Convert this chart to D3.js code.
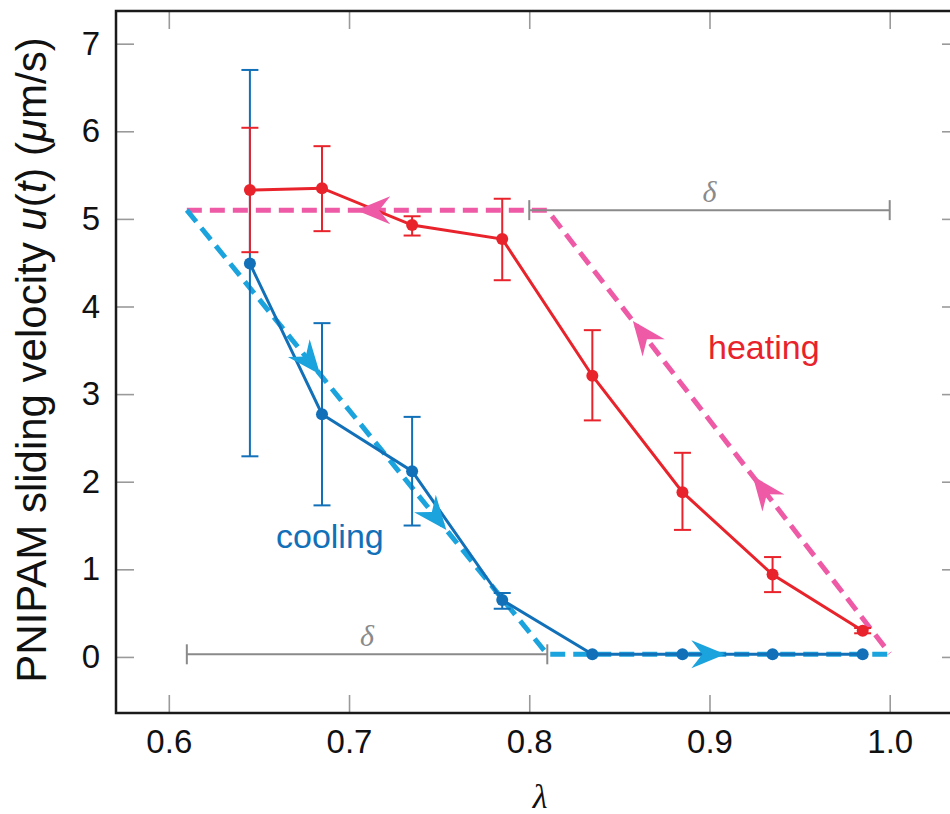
<!DOCTYPE html>
<html>
<head>
<meta charset="utf-8">
<script src="https://cdn.jsdelivr.net/npm/d3@7"></script>
<style>
  body { margin: 0; background: #fff; }
  svg { display: block; font-family: "Liberation Sans", Arial, sans-serif; }
</style>
</head>
<body>
<div id="chart"></div>
<script>
// lambda positions of the measurements
const lambdas = [0.645, 0.685, 0.735, 0.785, 0.835, 0.885, 0.935, 0.985];

// heating branch (red): mean, lower and upper ends of error bar
const heatMean = [5.33, 5.35, 4.93, 4.77, 3.21, 1.88, 0.94, 0.30];
const heatLow  = [4.62, 4.86, 4.81, 4.30, 2.70, 1.45, 0.74, 0.27];
const heatHigh = [6.04, 5.83, 5.03, 5.23, 3.73, 2.33, 1.14, 0.33];

// cooling branch (blue)
const coolMean = [4.49, 2.77, 2.12, 0.65, 0.03, 0.03, 0.03, 0.03];
const coolLow  = [2.29, 1.73, 1.50, 0.55, 0.03, 0.03, 0.03, 0.03];
const coolHigh = [6.70, 3.81, 2.74, 0.73, 0.03, 0.03, 0.03, 0.03];

// idealised hysteresis guides (dashed)
const heatGuide = [[0.61, 5.1], [0.81, 5.1], [1.0, 0.04]];
const coolGuide = [[0.61, 5.1], [0.81, 0.03], [1.0, 0.03]];

// arrow heads on the guides: [segment index, fraction along segment, direction]
const heatArrows = [[0, 0.47, -1], [1, 0.25, -1], [1, 0.60, -1]];
const coolArrows = [[0, 0.37, 1], [0, 0.72, 1], [1, 0.52, 1]];

// delta bars
const deltaBars = [[0.80, 1.0, 5.1], [0.61, 0.81, 0.03]];

const xTicks = [0.6, 0.7, 0.8, 0.9, 1.0];
const yTicks = [0, 1, 2, 3, 4, 5, 6, 7];

const W = 950, H = 814;
const margin = {top: 11, right: -10, bottom: 101, left: 116};
const width = W - margin.left - margin.right;
const height = H - margin.top - margin.bottom;

const svg = d3.select("#chart").append("svg")
  .attr("width", W).attr("height", H);
const g = svg.append("g")
  .attr("transform", `translate(${margin.left},${margin.top})`);

const x = d3.scaleLinear().domain([0.5707, 1.0390]).range([0, width]);
const y = d3.scaleLinear().domain([-0.64, 7.373]).range([height, 0]);

const red = "#e8232b", blue = "#1170b8", lightBlue = "#1ba3dd", pink = "#ee5aa5", gray = "#8a8a8a";

// axes with inward ticks on all four sides
const tickLen = 18;
g.append("g").attr("transform", `translate(0,${height})`)
  .call(d3.axisBottom(x).tickValues(xTicks).tickFormat(d3.format(".1f"))
    .tickSizeInner(-tickLen).tickSizeOuter(0).tickPadding(17));
g.append("g")
  .call(d3.axisLeft(y).tickValues(yTicks).tickFormat(d3.format("d"))
    .tickSizeInner(-tickLen).tickSizeOuter(0).tickPadding(16));
g.append("g")
  .call(d3.axisTop(x).tickValues(xTicks).tickSizeInner(-tickLen).tickSizeOuter(0).tickFormat(""));
g.append("g").attr("transform", `translate(${width},0)`)
  .call(d3.axisRight(y).tickValues(yTicks).tickSizeInner(-tickLen).tickSizeOuter(0).tickFormat(""));
g.selectAll(".domain").remove();
g.selectAll(".tick line").attr("stroke", "#9a9a9a").attr("stroke-width", 1.6);
g.selectAll(".tick text").attr("fill", "#111").style("font-size", "33px")
  .style("font-family", "'Liberation Sans', Arial, sans-serif");

// frame
g.append("rect").attr("width", width).attr("height", height)
  .attr("fill", "none").attr("stroke", "#1a1a1a").attr("stroke-width", 2.5);

const line = d3.line().x(d => x(d[0])).y(d => y(d[1]));

// dashed guides
g.append("path").datum(heatGuide).attr("d", line)
  .attr("fill", "none").attr("stroke", pink).attr("stroke-width", 5)
  .attr("stroke-dasharray", "15,8");
g.append("path").datum(coolGuide).attr("d", line)
  .attr("fill", "none").attr("stroke", lightBlue).attr("stroke-width", 5)
  .attr("stroke-dasharray", "15,8");

// delta bars
deltaBars.forEach(([a, b, v]) => {
  const bar = g.append("g").attr("stroke", gray).attr("stroke-width", 2);
  bar.append("line").attr("x1", x(a)).attr("x2", x(b)).attr("y1", y(v)).attr("y2", y(v));
  [a, b].forEach(e => bar.append("line")
    .attr("x1", x(e)).attr("x2", x(e)).attr("y1", y(v) - 10).attr("y2", y(v) + 10));
  g.append("text").attr("x", x((a + b) / 2)).attr("y", y(v) - 8)
    .attr("text-anchor", "middle").attr("fill", gray)
    .style("font-family", "'Liberation Serif', 'DejaVu Serif', serif")
    .style("font-style", "italic").style("font-size", "30px").text("δ");
});

// data series
function drawSeries(mean, low, high, color) {
  const s = g.append("g");
  lambdas.forEach((l, i) => {
    if (high[i] - low[i] < 0.02) return;
    const eb = s.append("g").attr("stroke", color).attr("stroke-width", 2);
    eb.append("line").attr("x1", x(l)).attr("x2", x(l)).attr("y1", y(low[i])).attr("y2", y(high[i]));
    [low[i], high[i]].forEach(v => eb.append("line")
      .attr("x1", x(l) - 8.5).attr("x2", x(l) + 8.5).attr("y1", y(v)).attr("y2", y(v)));
  });
  const pts = lambdas.map((l, i) => [l, mean[i]]);
  s.append("path").datum(pts).attr("d", line)
    .attr("fill", "none").attr("stroke", color).attr("stroke-width", 3);
  s.selectAll("circle").data(pts).enter().append("circle")
    .attr("cx", d => x(d[0])).attr("cy", d => y(d[1])).attr("r", 6)
    .attr("fill", color);
}
drawSeries(coolMean, coolLow, coolHigh, blue);
drawSeries(heatMean, heatLow, heatHigh, red);

// arrow heads (stealth style)
const arrowPath = "M0,0 L-34,-14 L-23,0 L-34,14 Z";
function drawArrows(guide, arrows, color) {
  arrows.forEach(([seg, t, dir]) => {
    const p0 = guide[seg], p1 = guide[seg + 1];
    const px = x(p0[0]) + t * (x(p1[0]) - x(p0[0]));
    const py = y(p0[1]) + t * (y(p1[1]) - y(p0[1]));
    let ang = Math.atan2(y(p1[1]) - y(p0[1]), x(p1[0]) - x(p0[0])) * 180 / Math.PI;
    if (dir < 0) ang += 180;
    g.append("path").attr("d", arrowPath).attr("fill", color)
      .attr("transform", `translate(${px},${py}) rotate(${ang})`);
  });
}
drawArrows(heatGuide, heatArrows, pink);
drawArrows(coolGuide, coolArrows, lightBlue);

// branch labels
svg.append("text").attr("x", 708).attr("y", 359).attr("fill", red)
  .style("font-size", "34px").text("heating");
svg.append("text").attr("x", 276).attr("y", 548).attr("fill", blue)
  .style("font-size", "34px").text("cooling");

// axis titles
svg.append("text").attr("x", 540).attr("y", 808).attr("text-anchor", "middle")
  .style("font-family", "'Liberation Serif', 'DejaVu Serif', serif")
  .style("font-style", "italic").style("font-size", "34px").attr("fill", "#111").text("λ");

const yt = svg.append("text")
  .attr("transform", "translate(46,360) rotate(-90)")
  .attr("text-anchor", "middle").attr("fill", "#111").style("font-size", "42px");
yt.append("tspan").text("PNIPAM sliding velocity ");
yt.append("tspan").style("font-style", "italic").text("u");
yt.append("tspan").text("(");
yt.append("tspan").style("font-style", "italic").text("t");
yt.append("tspan").text(") (");
yt.append("tspan").style("font-style", "italic").text("μ");
yt.append("tspan").text("m/s)");
</script>
</body>
</html>
